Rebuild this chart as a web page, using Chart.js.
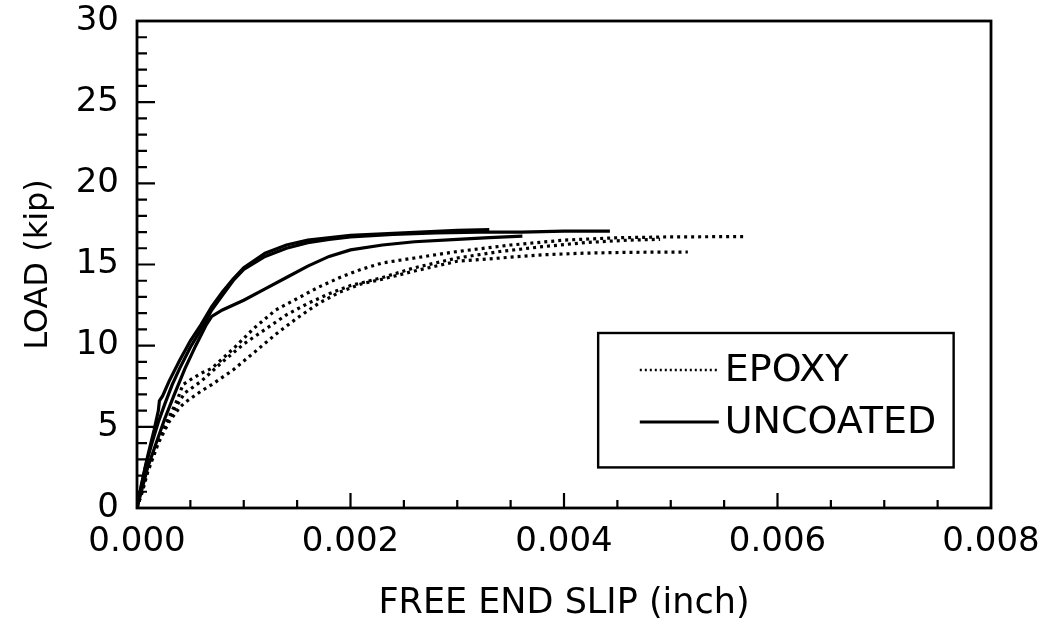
<!DOCTYPE html>
<html>
<head>
<meta charset="utf-8">
<script src="https://cdn.jsdelivr.net/npm/chart.js@4"></script>
<style>
  html, body { margin: 0; padding: 0; background: #fff; }
  #wrap { width: 1042px; height: 627px; }
</style>
</head>
<body>
<div id="wrap"><canvas id="myChart" width="1042" height="627"></canvas></div>
<script>
// DATA (slip in inch, load in kip)
const xTicks = [0, 0.002, 0.004, 0.006, 0.008];
const yTicks = [0, 5, 10, 15, 20, 25, 30];
const legendLabels = ["EPOXY", "UNCOATED"];

// uncoated bars (solid)
const u1X = [0, 0.00003, 0.00008, 0.00014, 0.0002, 0.00026, 0.00033, 0.0004, 0.0005, 0.0006, 0.0007, 0.0008, 0.0009, 0.001, 0.0012, 0.0014, 0.0016, 0.0018, 0.002, 0.0024, 0.0028, 0.0032, 0.0036, 0.004, 0.00443];
const u1Y = [0, 1.0, 2.6, 4.0, 5.3, 6.4, 7.6, 8.6, 9.9, 11.0, 12.2, 13.1, 14.0, 14.7, 15.5, 16.0, 16.35, 16.55, 16.7, 16.85, 16.95, 17.0, 17.0, 17.05, 17.05];

const u2X = [0, 0.00004, 0.0001, 0.00016, 0.0002, 0.00021, 0.00024, 0.0003, 0.0004, 0.0005, 0.0006, 0.0007, 0.0008, 0.0009, 0.001, 0.0012, 0.0014, 0.0016, 0.002, 0.0025, 0.003, 0.0033];
const u2Y = [0, 1.4, 3.2, 4.8, 6.0, 6.6, 6.9, 7.8, 9.1, 10.3, 11.3, 12.4, 13.3, 14.1, 14.8, 15.7, 16.2, 16.5, 16.8, 16.95, 17.1, 17.15];

const u3X = [0, 0.00004, 0.0001, 0.00018, 0.00026, 0.00035, 0.00045, 0.00055, 0.00065, 0.0007, 0.0008, 0.001, 0.0012, 0.0014, 0.0016, 0.0018, 0.002, 0.0023, 0.0026, 0.003, 0.0033, 0.00361];
const u3Y = [0, 1.0, 2.5, 4.0, 5.5, 7.0, 8.6, 10.0, 11.3, 11.8, 12.2, 12.8, 13.5, 14.2, 14.9, 15.5, 15.9, 16.2, 16.4, 16.55, 16.65, 16.75];

// epoxy coated bars (dotted)
const e1X = [0, 0.00005, 0.0001, 0.0002, 0.0003, 0.00038, 0.00043, 0.0005, 0.0006, 0.0007, 0.0009, 0.0011, 0.0013, 0.0015, 0.0017, 0.0019, 0.0021, 0.0023, 0.0026, 0.003, 0.0035, 0.004, 0.0045, 0.005, 0.0057];
const e1Y = [0, 1.2, 2.4, 4.2, 5.6, 6.7, 7.6, 7.9, 8.3, 8.6, 9.8, 11.1, 12.2, 12.9, 13.6, 14.2, 14.7, 15.1, 15.4, 15.8, 16.2, 16.5, 16.65, 16.7, 16.72];

const e2X = [0, 0.00005, 0.0001, 0.0002, 0.0003, 0.0004, 0.00045, 0.0006, 0.0007, 0.0009, 0.0011, 0.0013, 0.0015, 0.0017, 0.0019, 0.0021, 0.0023, 0.0026, 0.003, 0.0034, 0.0038, 0.0042, 0.0046, 0.00516];
const e2Y = [0, 1.0, 2.2, 4.0, 5.3, 6.2, 6.5, 7.2, 7.6, 8.5, 9.6, 10.7, 11.7, 12.6, 13.3, 13.8, 14.1, 14.6, 15.2, 15.4, 15.6, 15.7, 15.75, 15.77];

const e3X = [0, 0.00005, 0.0001, 0.0002, 0.0003, 0.0004, 0.00045, 0.0006, 0.0008, 0.001, 0.0012, 0.0014, 0.0016, 0.0018, 0.002, 0.0023, 0.0026, 0.003, 0.0034, 0.0038, 0.0042, 0.0046, 0.0049];
const e3Y = [0, 1.1, 2.3, 4.1, 5.5, 6.6, 7.1, 7.8, 9.0, 10.1, 11.0, 11.9, 12.6, 13.2, 13.7, 14.2, 14.8, 15.4, 15.8, 16.1, 16.35, 16.5, 16.55];

const FONT = "'DejaVu Sans', 'Liberation Sans', sans-serif";

function pts(xs, ys) {
  return xs.map(function (x, i) { return { x: x, y: ys[i] }; });
}

function solid(xs, ys) {
  return { data: pts(xs, ys), borderColor: "#000", borderWidth: 3.2, showLine: true, pointRadius: 0, tension: 0, fill: false };
}

function dotted(xs, ys) {
  return { data: pts(xs, ys), borderColor: "#000", borderWidth: 3.2, borderDash: [3, 4], showLine: true, pointRadius: 0, tension: 0, fill: false };
}

// FRAME, INWARD TICKS AND BOXED LEGEND
const framePlugin = {
  id: "frame",
  afterDraw: function (chart) {
    const ctx = chart.ctx;
    const a = chart.chartArea;
    const xs = chart.scales.x;
    const ys = chart.scales.y;
    ctx.save();
    ctx.strokeStyle = "#000";
    ctx.lineWidth = 2.8;
    ctx.strokeRect(a.left, a.top, a.right - a.left, a.bottom - a.top);

    ctx.lineWidth = 2.2;
    ctx.beginPath();
    for (let i = 1; i < 16; i++) {
      const px = xs.getPixelForValue(i * 0.0005);
      const len = i % 4 === 0 ? 15 : 8;
      ctx.moveTo(px, a.bottom);
      ctx.lineTo(px, a.bottom - len);
    }
    for (let j = 1; j < 30; j++) {
      const py = ys.getPixelForValue(j);
      const len = j % 5 === 0 ? 18 : 10;
      ctx.moveTo(a.left, py);
      ctx.lineTo(a.left + len, py);
    }
    ctx.stroke();

    // legend box
    const bl = xs.getPixelForValue(0.00432);
    const br = xs.getPixelForValue(0.00765);
    const bt = ys.getPixelForValue(10.78);
    const bb = ys.getPixelForValue(2.5);
    ctx.lineWidth = 2.4;
    ctx.strokeRect(bl, bt, br - bl, bb - bt);

    const l0 = xs.getPixelForValue(0.00471);
    const l1 = xs.getPixelForValue(0.00545);
    const rows = [ys.getPixelForValue(8.5), ys.getPixelForValue(5.3)];
    ctx.font = "38px " + FONT;
    ctx.fillStyle = "#000";
    ctx.textBaseline = "middle";
    rows.forEach(function (py, k) {
      ctx.beginPath();
      ctx.lineWidth = k === 0 ? 2.6 : 3;
      ctx.setLineDash(k === 0 ? [2, 3] : []);
      ctx.moveTo(l0, py);
      ctx.lineTo(l1, py);
      ctx.stroke();
      ctx.setLineDash([]);
      ctx.fillText(legendLabels[k], l1 + 6, py + 1);
    });
    ctx.restore();
  }
};

const ctx = document.getElementById("myChart");

new Chart(ctx, {
  type: "scatter",
  data: {
    datasets: [
      dotted(e1X, e1Y),
      dotted(e2X, e2Y),
      dotted(e3X, e3Y),
      solid(u1X, u1Y),
      solid(u2X, u2Y),
      solid(u3X, u3Y)
    ]
  },
  options: {
    responsive: false,
    animation: false,
    layout: { padding: { left: 0, right: 51, top: 21, bottom: 0 } },
    plugins: { legend: { display: false }, tooltip: { enabled: false } },
    scales: {
      x: {
        type: "linear",
        min: 0,
        max: 0.008,
        afterFit: function (scale) {
          scale.height = 119;
          scale.paddingLeft = 0;
          scale.paddingRight = 0;
        },
        afterBuildTicks: function (scale) { scale.ticks = xTicks.map(function (v) { return { value: v }; }); },
        grid: { display: false, drawTicks: false },
        border: { display: false },
        ticks: {
          color: "#000",
          padding: 14,
          maxRotation: 0,
          font: { family: FONT, size: 34 },
          callback: function (v) { return v.toFixed(3); }
        },
        title: {
          display: true,
          text: "FREE END SLIP (inch)",
          color: "#000",
          font: { family: FONT, size: 35 },
          padding: { top: 0, bottom: 2 }
        }
      },
      y: {
        min: 0,
        max: 30,
        afterFit: function (scale) {
          scale.width = 137;
          scale.paddingTop = 0;
          scale.paddingBottom = 0;
        },
        afterBuildTicks: function (scale) { scale.ticks = yTicks.map(function (v) { return { value: v }; }); },
        grid: { display: false, drawTicks: false },
        border: { display: false },
        ticks: {
          color: "#000",
          padding: 18,
          font: { family: FONT, size: 34 },
          callback: function (v) { return String(v); }
        },
        title: {
          display: true,
          text: "LOAD (kip)",
          color: "#000",
          font: { family: FONT, size: 32 },
          padding: { top: 19, bottom: 0 }
        }
      }
    }
  },
  plugins: [framePlugin]
});
</script>
</body>
</html>
